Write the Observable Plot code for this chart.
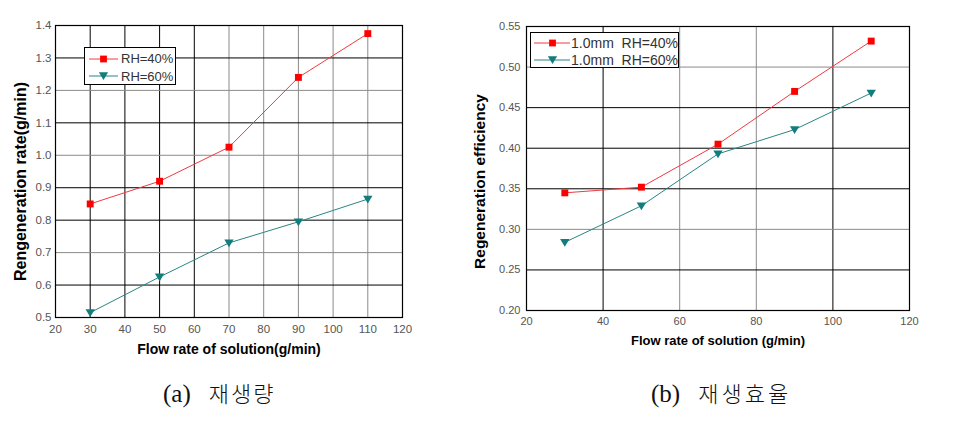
<!DOCTYPE html>
<html>
<head>
<meta charset="utf-8">
<script src="https://cdn.jsdelivr.net/npm/d3@7"></script>
<script src="https://cdn.jsdelivr.net/npm/@observablehq/plot@0.6"></script>
<style>
  html, body { margin: 0; padding: 0; background: #fff; }
  #wrap { position: relative; width: 968px; height: 422px; overflow: hidden; font-family: "Liberation Sans", Arial, sans-serif; }
  .panel { position: absolute; top: 0; }
  .legend { position: absolute; background: #fff; border: 1px solid #000; box-sizing: border-box; color: #333; }
  .legend .row { display: flex; align-items: center; white-space: pre; }
  .caption { position: absolute; top: 376px; white-space: nowrap; color: #111; }
  .caption .lab { font-family: "Liberation Serif", "DejaVu Serif", serif; font-size: 25px; }
  .caption .ko { font-family: "Noto Sans CJK KR", sans-serif; font-size: 22px; font-weight: 300; }
</style>
</head>
<body>
<div id="wrap"></div>
<script>
// ---------- data ----------
const flowRates = [30, 50, 70, 90, 110];

// (a) regeneration rate (g/min)
const rateRH40 = [0.85, 0.92, 1.025, 1.24, 1.375];
const rateRH60 = [0.515, 0.625, 0.73, 0.795, 0.865];

// (b) regeneration efficiency
const effRH40 = [0.345, 0.352, 0.405, 0.470, 0.532];
const effRH60 = [0.284, 0.329, 0.393, 0.423, 0.468];

// tick values
const aXTicks = [20, 30, 40, 50, 60, 70, 80, 90, 100, 110, 120];
const aYTicks = [0.5, 0.6, 0.7, 0.8, 0.9, 1.0, 1.1, 1.2, 1.3, 1.4];
const bXTicks = [20, 40, 60, 80, 100, 120];
const bYTicks = [0.20, 0.25, 0.30, 0.35, 0.40, 0.45, 0.50, 0.55];

// labels
const aSeriesNames = ["RH=40%", "RH=60%"];
const bSeriesNames = ["1.0mm  RH=40%", "1.0mm  RH=60%"];
const aXTitle = "Flow rate of solution(g/min)";
const aYTitle = "Rengeneration rate(g/min)";
const bXTitle = "Flow rate of solution (g/min)";
const bYTitle = "Regeneration efficiency";
const aCaption = ["(a)", "재생량"];
const bCaption = ["(b)", "재생효율"];

// gridlines drawn in black (the rest are grey)
const aXDark = [30, 40, 50, 60];
const aYDark = [0.6, 0.8, 0.9, 1.1, 1.3];
const bXDark = [40, 100];
const bYDark = [0.25, 0.35, 0.40, 0.45];

// ---------- styles ----------
const RED = "#ff0000", RED_LINE = "#f03a40";
const TEAL = "#137c7c", TEAL_LINE = "#2a8585";
const GRID_DARK = "#000", GRID_LIGHT = "#8a8a8a";

const triDown = {
  draw(ctx, size) {
    const h = Math.sqrt(size) * 0.95;
    ctx.moveTo(-h * 0.58, -h * 0.42);
    ctx.lineTo(h * 0.58, -h * 0.42);
    ctx.lineTo(0, h * 0.55);
    ctx.closePath();
  }
};

function series(ys, name) {
  return flowRates.map((x, i) => ({x, y: ys[i], name}));
}

function panel(cfg) {
  const s1 = series(cfg.y1, "s1"), s2 = series(cfg.y2, "s2");
  return Plot.plot({
    width: cfg.width,
    height: 362,
    marginLeft: cfg.ml, marginRight: cfg.mr, marginTop: cfg.mt, marginBottom: 362 - cfg.mt - cfg.ph,
    style: {fontFamily: "'Liberation Sans', Arial, sans-serif", color: "#555", background: "transparent"},
    x: {domain: cfg.xDomain},
    y: {domain: cfg.yDomain},
    marks: [
      Plot.ruleX(cfg.xTicks.slice(1, -1), {stroke: d => cfg.xDark.includes(d) ? GRID_DARK : GRID_LIGHT, strokeWidth: 1}),
      Plot.ruleY(cfg.yTicks.slice(1, -1), {stroke: d => cfg.yDark.some(v => Math.abs(v - d) < 1e-9) ? GRID_DARK : GRID_LIGHT, strokeWidth: 1}),
      Plot.frame({stroke: "#000", strokeWidth: 1.2}),
      Plot.axisX({ticks: cfg.xTicks, tickSize: 0, tickPadding: 7, fontSize: cfg.tickFont, label: null, letterSpacing: cfg.tickSpacing}),
      Plot.axisY({ticks: cfg.yTicks, tickSize: 0, tickPadding: cfg.yPad, fontSize: cfg.tickFont, label: null, tickFormat: d3.format(cfg.yFmt)}),
      Plot.line(s1, {x: "x", y: "y", stroke: RED_LINE, strokeWidth: 1}),
      Plot.line(s2, {x: "x", y: "y", stroke: TEAL_LINE, strokeWidth: 1}),
      Plot.dot(s1, {x: "x", y: "y", symbol: "square", r: 3.9, fill: RED, stroke: "none"}),
      Plot.dot(s2, {x: "x", y: "y", symbol: triDown, r: 4.8, fill: TEAL, stroke: "none"}),
      Plot.text([cfg.xTitle], {text: d => d, frameAnchor: "bottom", dy: cfg.xTitleDy, fontSize: cfg.xTitleSize, fontWeight: "bold", fill: "#000", letterSpacing: cfg.xTitleSpacing}),
      Plot.text([cfg.yTitle], {text: d => d, frameAnchor: "left", textAnchor: "middle", rotate: -90, dx: cfg.yTitleDx, dy: cfg.yTitleDy, fontSize: cfg.yTitleSize, fontWeight: "bold", fill: "#000", letterSpacing: cfg.yTitleSpacing})
    ]
  });
}

const wrap = document.getElementById("wrap");

const left = panel({
  width: 465, ml: 55, mr: 63, mt: 25, ph: 292,
  xDomain: [20, 120], yDomain: [0.5, 1.4],
  xTicks: aXTicks, yTicks: aYTicks, xDark: aXDark, yDark: aYDark,
  y1: rateRH40, y2: rateRH60, yFmt: ".1f", yPad: 4, tickFont: 11.5, tickSpacing: -0.3,
  xTitle: aXTitle, xTitleDy: 36, xTitleSize: 14, xTitleSpacing: "-0.45px",
  yTitle: aYTitle, yTitleDx: -35, yTitleDy: 10, yTitleSize: 16, yTitleSpacing: "-0.3px"
});
const right = panel({
  width: 503, ml: 61, mr: 59, mt: 26, ph: 284,
  xDomain: [20, 120], yDomain: [0.20, 0.55],
  xTicks: bXTicks, yTicks: bYTicks, xDark: bXDark, yDark: bYDark,
  y1: effRH40, y2: effRH60, yFmt: ".2f", yPad: 6, tickFont: 11, tickSpacing: 0.6,
  xTitle: bXTitle, xTitleDy: 34, xTitleSize: 13, xTitleSpacing: "0.75px",
  yTitle: bYTitle, yTitleDx: -46, yTitleDy: 13, yTitleSize: 15.5, yTitleSpacing: "0px"
});
const pl = document.createElement("div"); pl.className = "panel"; pl.style.left = "0px"; pl.appendChild(left); wrap.appendChild(pl);
const pr = document.createElement("div"); pr.className = "panel"; pr.style.left = "465px"; pr.appendChild(right); wrap.appendChild(pr);

// ---------- legends (HTML overlays) ----------
function swatch(kind, w, color, lineColor) {
  const ns = "http://www.w3.org/2000/svg";
  const svg = document.createElementNS(ns, "svg");
  svg.setAttribute("width", w); svg.setAttribute("height", 12);
  svg.style.display = "block";
  const ln = document.createElementNS(ns, "line");
  ln.setAttribute("x1", 0); ln.setAttribute("x2", w); ln.setAttribute("y1", 6); ln.setAttribute("y2", 6);
  ln.setAttribute("stroke", lineColor); ln.setAttribute("stroke-width", 1);
  svg.appendChild(ln);
  const c = w / 2;
  let shape;
  if (kind === "square") {
    shape = document.createElementNS(ns, "rect");
    shape.setAttribute("x", c - 3.4); shape.setAttribute("y", 2.6); shape.setAttribute("width", 6.8); shape.setAttribute("height", 6.8);
  } else {
    shape = document.createElementNS(ns, "path");
    shape.setAttribute("d", `M${c - 4.6},2.2 L${c + 4.6},2.2 L${c},10 Z`);
  }
  shape.setAttribute("fill", color);
  svg.appendChild(shape);
  return svg;
}
function legend(names, box) {
  const d = document.createElement("div");
  d.className = "legend";
  Object.assign(d.style, {left: box.left + "px", top: box.top + "px", width: box.w + "px", height: box.h + "px", paddingLeft: box.pad + "px", paddingTop: box.padTop + "px", fontSize: box.font + "px"});
  const kinds = [["square", RED, RED_LINE], ["tri", TEAL, TEAL_LINE]];
  names.forEach((n, i) => {
    const r = document.createElement("div");
    r.className = "row";
    r.style.height = box.rowH + "px";
    r.appendChild(swatch(kinds[i][0], box.sw, kinds[i][1], kinds[i][2]));
    const t = document.createElement("span");
    t.textContent = n; t.style.marginLeft = box.gap + "px";
    r.appendChild(t);
    d.appendChild(r);
  });
  wrap.appendChild(d);
}
legend(aSeriesNames, {left: 84, top: 47, w: 92, h: 38, pad: 4, padTop: 2, font: 13, rowH: 17.5, sw: 29, gap: 3});
legend(bSeriesNames, {left: 530, top: 32, w: 149, h: 36, pad: 3, padTop: 1.5, font: 14, rowH: 17, sw: 37, gap: 1});

// ---------- captions ----------
function caption(parts, left, gap, spacing) {
  const c = document.createElement("div");
  c.className = "caption";
  c.style.left = left + "px";
  const a = document.createElement("span"); a.className = "lab"; a.textContent = parts[0];
  const k = document.createElement("span"); k.className = "ko"; k.textContent = parts[1];
  k.style.marginLeft = gap + "px"; k.style.letterSpacing = spacing + "px";
  c.appendChild(a); c.appendChild(k);
  wrap.appendChild(c);
}
caption(aCaption, 163, 18, 2);
caption(bCaption, 651, 18, 3);
</script>
</body>
</html>
